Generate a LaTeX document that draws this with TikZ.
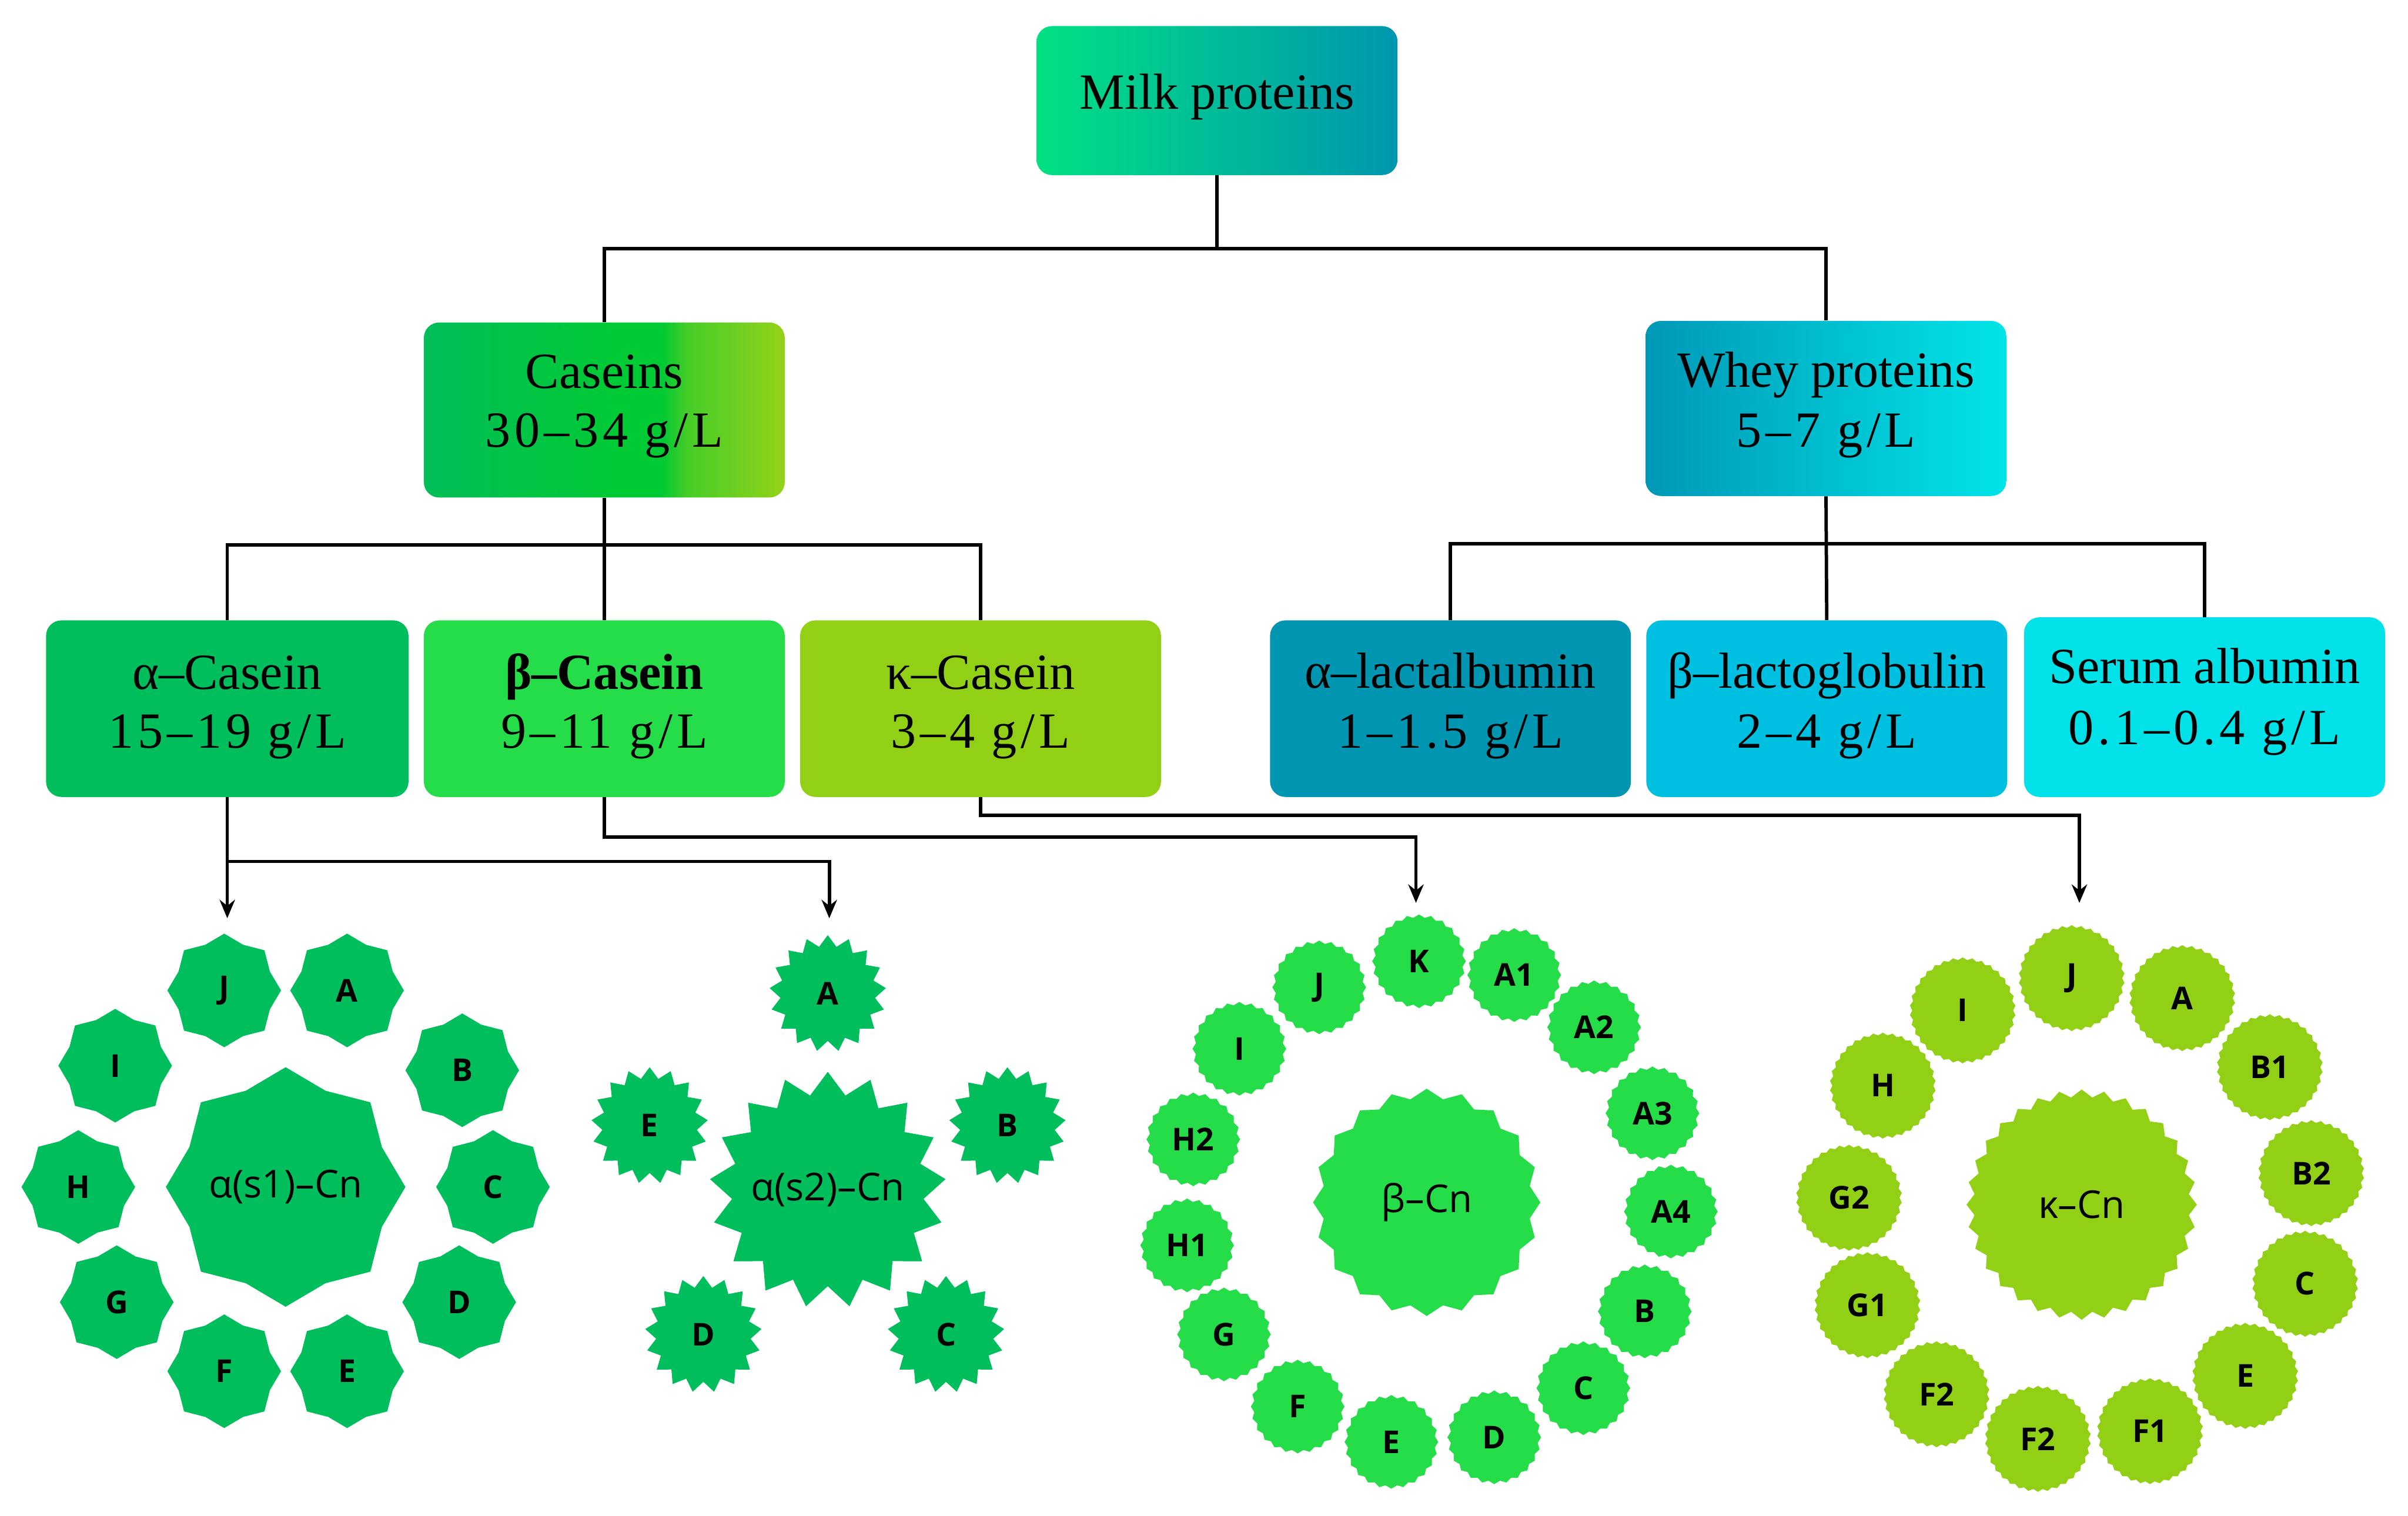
\documentclass[tikz,border=0pt]{standalone}
\usepackage{fontspec}
\setmainfont{Liberation Serif}
\newfontfamily\numfont[LetterSpace=8]{Liberation Serif}
\newfontfamily\osans{Open Sans}
\usetikzlibrary{shapes.geometric,arrows.meta}

\definecolor{milkL}{RGB}{0,225,130}
\definecolor{milkR}{RGB}{0,150,175}
\definecolor{casA}{RGB}{0,190,88}
\definecolor{casB}{RGB}{0,202,52}
\definecolor{casC}{RGB}{70,205,40}
\definecolor{casD}{RGB}{148,210,26}
\definecolor{wheyL}{RGB}{0,152,182}
\definecolor{wheyR}{RGB}{0,228,232}
\definecolor{acol}{RGB}{0,190,92}
\definecolor{bcol}{RGB}{36,221,72}
\definecolor{kcol}{RGB}{146,208,22}
\definecolor{lacol}{RGB}{0,150,178}
\definecolor{lgcol}{RGB}{0,192,226}
\definecolor{sacol}{RGB}{0,226,232}

\pgfdeclarehorizontalshading{caseinshade}{100bp}{color(0bp)=(casA); color(25bp)=(casA); color(52bp)=(casB); color(58bp)=(casB); color(61.5bp)=(casC); color(75bp)=(casD); color(100bp)=(casD)}

\begin{document}
\begin{tikzpicture}[x=1pt,y=-1pt,
  box/.style={rectangle, rounded corners=10pt, inner sep=0pt, minimum width=235pt, minimum height=115pt, draw=none},
  ttl/.style={anchor=base, inner sep=0pt, font=\fontsize{33}{40}\selectfont},
  val/.style={anchor=base, inner sep=0pt, font=\numfont\fontsize{33}{40}\selectfont},
  conn/.style={line width=2.2pt, black},
  arr/.style={conn, -{Stealth[length=12pt,width=10pt]}},
  ctext/.style={inner sep=0pt, font=\osans\fontsize{25}{29}\selectfont},
  ltext/.style={font=\osans\bfseries\fontsize{20.5}{24}\selectfont},
  stA/.style={star, star points=8, star point ratio=1.15, fill=acol, draw=none, inner sep=0pt, minimum size=#1, ltext},
  stB/.style={star, star points=17, star point ratio=1.23, fill=acol, draw=none, inner sep=0pt, minimum size=#1, ltext},
  stC/.style={star, star points=24, star point ratio=1.07, fill=bcol, draw=none, inner sep=0pt, minimum size=#1, ltext},
  stCbig/.style={star, star points=20, star point ratio=1.09, fill=bcol, draw=none, inner sep=0pt, minimum size=#1},
  stD/.style={star, star points=34, star point ratio=1.05, fill=kcol, draw=none, inner sep=0pt, minimum size=#1, ltext},
  stDbig/.style={star, star points=32, star point ratio=1.07, fill=kcol, draw=none, inner sep=0pt, minimum size=#1}
]
\fill[white] (0,0) rectangle (1568,987);
\useasboundingbox (0,0) rectangle (1568,987);

% ---------- boxes ----------
\node[box, left color=milkL, right color=milkR, minimum height=97pt] (milk) at (792.5,65.5) {};
\node[box, shade, shading=caseinshade, minimum height=114pt] (casein) at (393.5,267) {};
\node[box, left color=wheyL, right color=wheyR, minimum height=114pt] (whey) at (1189,266) {};

\node[box, fill=acol, minimum width=236pt] (acas) at (148,461.5) {};
\node[box, fill=bcol] (bcas) at (393.5,461.5) {};
\node[box, fill=kcol] (kcas) at (638.5,461.5) {};
\node[box, fill=lacol] (alac) at (944.5,461.5) {};
\node[box, fill=lgcol] (blg) at (1189.5,461.5) {};
\node[box, fill=sacol, minimum height=117pt] (ser) at (1435.5,460.5) {};

% ---------- box texts ----------
\node[ttl] (milkt) at (792.5,71) {Milk proteins};
\node[ttl] (caseint) at (393.5,253) {Caseins};
\node[val] (caseinv) at (393.5,291) {30–34 g/L};
\node[ttl] (wheyt) at (1189,252) {Whey proteins};
\node[val] (wheyv) at (1189,291) {5–7 g/L};

\node[ttl] (acast) at (148,449) {α–Casein};
\node[val] (acasv) at (148,487) {15–19 g/L};
\node[ttl, font=\bfseries\fontsize{33}{40}\selectfont] (bcast) at (393.5,449) {β–Casein};
\node[val] (bcasv) at (393.5,487) {9–11 g/L};
\node[ttl] (kcast) at (638.5,449) {κ–Casein};
\node[val] (kcasv) at (638.5,487) {3–4 g/L};
\node[ttl] (alact) at (944.5,448) {α–lactalbumin};
\node[val] (alacv) at (944.5,487) {1–1.5 g/L};
\node[ttl] (blgt) at (1189.5,448) {β–lactoglobulin};
\node[val] (blgv) at (1189.5,487) {2–4 g/L};
\node[ttl] (sert) at (1435.5,445) {Serum albumin};
\node[val] (serv) at (1435.5,485) {0.1–0.4 g/L};

% ---------- tree connectors ----------
\coordinate (busA) at (0,162);
\coordinate (busB) at (0,355);
\coordinate (busC) at (0,354);
\coordinate (busD) at (0,561);
\coordinate (busE) at (0,545);
\coordinate (busF) at (0,531);

\draw[conn] (milk.south) -- (milk.south |- busA) -| (casein.north);
\draw[conn] (milk.south |- busA) -| (whey.north);
\draw[conn] (casein.south) -- (bcas.north);
\draw[conn] (casein.south |- busB) -| (acas.north);
\draw[conn] (casein.south |- busB) -| (kcas.north);
\draw[conn] (whey.south) -- (blg.north);
\draw[conn] (blg.north |- busC) -| (alac.north);
\draw[conn] (blg.north |- busC) -| (ser.north);

% ---------- arrows to groups ----------
\coordinate (endA1) at (148,598);
\coordinate (endA2) at (540,598);
\coordinate (endB) at (922,588);
\coordinate (endK) at (1354,588);

\draw[arr] (acas.south) -- (endA1);
\draw[arr] (acas.south |- busD) -| (endA2);
\draw[arr] (bcas.south) -- (bcas.south |- busE) -| (endB);
\draw[arr] (kcas.south) -- (kcas.south |- busF) -| (endK);

% ---------- group 1: alpha(s1) ----------
\node[stA=156pt] (g1c) at (186,773) {};
\node[ctext] (g1ct) at (g1c.center) {α(s1)–Cn};
\node[stA=74pt] (g1J) at (146,645) {J};
\node[stA=74pt] (g1A) at (226,645) {A};
\node[stA=74pt] (g1B) at (301,697) {B};
\node[stA=74pt] (g1C) at (321,773) {C};
\node[stA=74pt] (g1D) at (299,848) {D};
\node[stA=74pt] (g1E) at (226,893) {E};
\node[stA=74pt] (g1F) at (146,893) {F};
\node[stA=74pt] (g1G) at (76,848) {G};
\node[stA=74pt] (g1H) at (51,773) {H};
\node[stA=74pt] (g1I) at (75,694) {I};

% ---------- group 2: alpha(s2) ----------
\node[stB=154pt] (g2c) at (539,775) {};
\node[ctext] (g2ct) at (g2c.center) {α(s2)–Cn};
\node[stB=76pt] (g2A) at (539,647) {A};
\node[stB=76pt] (g2B) at (656,733) {B};
\node[stB=76pt] (g2C) at (616,869) {C};
\node[stB=76pt] (g2D) at (458,869) {D};
\node[stB=76pt] (g2E) at (423,733) {E};

% ---------- group 3: beta ----------
\node[stCbig=148pt] (g3c) at (929,783) {};
\node[ctext] (g3ct) at (g3c.center) {β–Cn};
\node[stC=61pt] (g3K) at (924,626) {K};
\node[stC=61pt] (g3A1) at (986,635) {A1};
\node[stC=61pt] (g3A2) at (1038,669) {A2};
\node[stC=61pt] (g3A3) at (1076,725) {A3};
\node[stC=61pt] (g3A4) at (1088,789) {A4};
\node[stC=61pt] (g3B) at (1071,854) {B};
\node[stC=61pt] (g3C) at (1031,904) {C};
\node[stC=61pt] (g3D) at (973,936) {D};
\node[stC=61pt] (g3E) at (906,939) {E};
\node[stC=61pt] (g3F) at (845,916) {F};
\node[stC=61pt] (g3G) at (797,869) {G};
\node[stC=61pt] (g3H1) at (773,811) {H1};
\node[stC=61pt] (g3H2) at (777,742) {H2};
\node[stC=61pt] (g3I) at (807,683) {I};
\node[stC=61pt] (g3J) at (859,643) {J};

% ---------- group 4: kappa ----------
\node[stDbig=150pt] (g4c) at (1355.5,784.5) {};
\node[ctext] (g4ct) at (g4c.center) {κ–Cn};
\node[stD=69pt] (g4J) at (1349,637) {J};
\node[stD=69pt] (g4A) at (1421,650) {A};
\node[stD=69pt] (g4B1) at (1478,695) {B1};
\node[stD=69pt] (g4B2) at (1505,764) {B2};
\node[stD=69pt] (g4C) at (1501,836) {C};
\node[stD=69pt] (g4E) at (1462,896) {E};
\node[stD=69pt] (g4F1) at (1400,932) {F1};
\node[stD=69pt] (g4F2b) at (1327,937) {F2};
\node[stD=69pt] (g4F2a) at (1261,908) {F2};
\node[stD=69pt] (g4G1) at (1216,850) {G1};
\node[stD=69pt] (g4G2) at (1204,780) {G2};
\node[stD=69pt] (g4H) at (1226,707) {H};
\node[stD=69pt] (g4I) at (1278,658) {I};
\end{tikzpicture}
\end{document}
